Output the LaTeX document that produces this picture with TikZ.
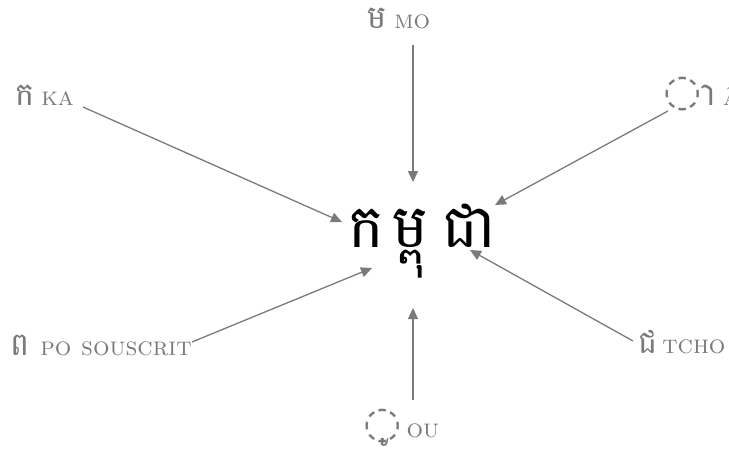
\documentclass[tikz,border=0pt]{standalone}
\usepackage{fontspec}
\newfontfamily\khmer[Script=Khmer]{Battambang}
\newfontfamily\dejavu{DejaVu Sans}
\usepackage{tikz}
\usetikzlibrary{arrows.meta,positioning}
\definecolor{labelgray}{HTML}{7A7A7A}
\newcommand{\kh}[1]{{\khmer\fontsize{32}{36}\selectfont #1}}
\newcommand{\dotc}{{\dejavu\fontsize{44}{44}\selectfont ◌}}
\tikzset{
  lbl/.style={anchor=base west, inner sep=0pt, text=labelgray,
              font=\fontsize{26}{30}\selectfont},
  word/.style={anchor=base west, inner sep=0pt, text=black,
               font=\khmer\fontsize{60}{70}\selectfont},
  tarr/.style={-{Triangle[length=11pt,width=10pt]}, line width=1.3pt, color=labelgray},
}
\begin{document}
\begin{tikzpicture}[x=1pt, y=-1pt]
  \useasboundingbox (0,0) rectangle (729,450);

  % Word
  \node[word] (mot) at (348,247) {ក\hspace{9pt}ម្ពុ\hspace{14pt}ជា};

  % Parts
  \node[lbl] (ka)   at (15,105)  {\kh{ក}\hspace{7pt}\textsc{ka}};
  \node[lbl] (mo)   at (367,28)  {\kh{ម}\hspace{8pt}\textsc{mo}};
  \node[lbl] (aa)   at (663,105) {\dotc\kern-6pt\kh{^^^^00a0ា}\hspace{7pt}\textsc{â}};
  \node[lbl] (po)   at (10,355)  {\kh{ព}\hspace{11pt}\textsc{po souscrit}};
  \node[lbl] (tcho) at (638,353) {\kh{ជ}\hspace{5pt}\textsc{tcho}};
  \node[lbl] (ou)   at (363,437) {\dotc\kern-22pt\kh{^^^^00a0ូ}\hspace{16pt}\textsc{ou}};

  % Arrow ends
  \coordinate (ka-s)   at (83,107);   \coordinate (ka-t)   at (342,222);
  \coordinate (mo-s)   at (413,45);   \coordinate (mo-t)   at (413,182);
  \coordinate (aa-s)   at (668,111);  \coordinate (aa-t)   at (495,205);
  \coordinate (po-s)   at (192,342);  \coordinate (po-t)   at (372,268);
  \coordinate (tcho-s) at (633,341);  \coordinate (tcho-t) at (470,250);
  \coordinate (ou-s)   at (413,400);  \coordinate (ou-t)   at (413,308);

  % Arrows
  \draw[tarr] (ka-s) -- (ka-t);
  \draw[tarr] (mo-s) -- (mo-t);
  \draw[tarr] (aa-s) -- (aa-t);
  \draw[tarr] (po-s) -- (po-t);
  \draw[tarr] (tcho-s) -- (tcho-t);
  \draw[tarr] (ou-s) -- (ou-t);
\end{tikzpicture}
\end{document}
